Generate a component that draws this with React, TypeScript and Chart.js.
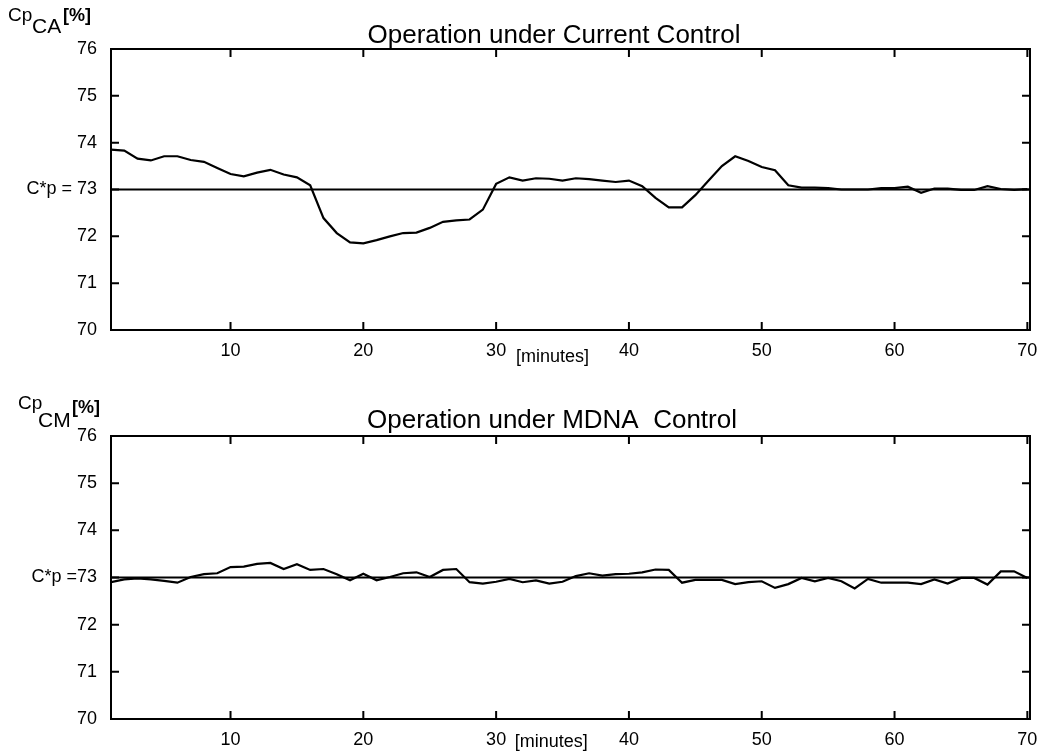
import React, { useEffect, useRef } from "react";
import { Chart, registerables } from "chart.js";

Chart.register(...registerables);

// ---------- data ----------
const MINUTES = [
  1, 2, 3, 4, 5, 6, 7, 8, 9, 10, 11, 12, 13, 14, 15, 16, 17, 18, 19, 20,
  21, 22, 23, 24, 25, 26, 27, 28, 29, 30, 31, 32, 33, 34, 35, 36, 37, 38, 39, 40,
  41, 42, 43, 44, 45, 46, 47, 48, 49, 50, 51, 52, 53, 54, 55, 56, 57, 58, 59, 60,
  61, 62, 63, 64, 65, 66, 67, 68, 69, 70,
];

// Cp_CA [%] – operation under current control
const CP_CA = [
  73.85, 73.83, 73.66, 73.62, 73.71, 73.71, 73.63, 73.59, 73.46, 73.33,
  73.28, 73.36, 73.42, 73.32, 73.26, 73.09, 72.39, 72.07, 71.87, 71.85,
  71.92, 72.0, 72.07, 72.08, 72.18, 72.31, 72.34, 72.36, 72.57, 73.12,
  73.26, 73.19, 73.24, 73.23, 73.19, 73.24, 73.22, 73.19, 73.16, 73.19,
  73.07, 72.82, 72.62, 72.62, 72.88, 73.19, 73.5, 73.71, 73.61, 73.48,
  73.41, 73.09, 73.04, 73.04, 73.03, 73.0, 73.0, 73.0, 73.03, 73.03,
  73.06, 72.93, 73.02, 73.02, 72.99, 72.99, 73.07, 73.01, 72.99, 73.01,
];

// Cp_CM [%] – operation under MDNA control
const CP_CM = [
  72.9, 72.96, 72.98, 72.96, 72.93, 72.89, 73.01, 73.07, 73.09, 73.22,
  73.23, 73.29, 73.31, 73.18, 73.28, 73.16, 73.18, 73.07, 72.94, 73.08,
  72.94, 73.01, 73.09, 73.11, 73.01, 73.16, 73.18, 72.9, 72.87, 72.91,
  72.97, 72.9, 72.94, 72.87, 72.91, 73.03, 73.09, 73.04, 73.07, 73.08,
  73.11, 73.17, 73.16, 72.89, 72.95, 72.95, 72.95, 72.86, 72.9, 72.92,
  72.78, 72.86, 72.99, 72.92, 72.99, 72.92, 72.77, 72.97, 72.89, 72.89,
  72.89, 72.86, 72.96, 72.87, 72.99, 72.99, 72.85, 73.13, 73.13, 72.99,
];

const SETPOINT = 73;
const X_TICKS = [10, 20, 30, 40, 50, 60, 70];
const Y_TICKS = [70, 71, 72, 73, 74, 75, 76];
const X_MIN = 1;
const X_MAX = 70.2;
const Y_MIN = 70;
const Y_MAX = 76;

// ---------- layout ----------
const FONT = "'Liberation Sans', Arial, Helvetica, sans-serif";
const W = 1041;
const AREA_LEFT = 111;
const AREA_RIGHT = 1030;

type Panel = {
  title: string;
  values: number[];
  setLabel: string;
  sub: string;
  top: number;
  height: number;
  areaTop: number;
  areaBottom: number;
  titleX: number;
  titleBaseline: number;
  cp: [number, number, number];
  subPos: [number, number, number];
  pct: [number, number];
  minutesAt: number;
  minutesBaseline: number;
};

const PANELS: Panel[] = [
  {
    title: "Operation under Current Control",
    values: CP_CA,
    setLabel: "C*p = 73",
    sub: "CA",
    top: 0,
    height: 390,
    areaTop: 49,
    areaBottom: 330,
    titleX: 554,
    titleBaseline: 43,
    cp: [8, 21, 19],
    subPos: [32, 33, 21],
    pct: [63, 21],
    minutesAt: 31.5,
    minutesBaseline: 362,
  },
  {
    title: "Operation under MDNA  Control",
    values: CP_CM,
    setLabel: "C*p =73",
    sub: "CM",
    top: 390,
    height: 361,
    areaTop: 46,
    areaBottom: 329,
    titleX: 552,
    titleBaseline: 38,
    cp: [18, 19, 19],
    subPos: [38, 37, 21],
    pct: [72, 23],
    minutesAt: 31.4,
    minutesBaseline: 357,
  },
];

function makeDecor(p: Panel) {
  return {
    id: "panelDecor",
    afterDraw(chart: any) {
      const ctx = chart.ctx as CanvasRenderingContext2D;
      const { left, right, top, bottom } = chart.chartArea;
      const xs = chart.scales.x;
      const ys = chart.scales.y;
      ctx.save();
      ctx.strokeStyle = "#000";
      ctx.lineWidth = 2;
      ctx.strokeRect(left, top, right - left, bottom - top);
      const tl = 8;
      ctx.beginPath();
      X_TICKS.forEach((v) => {
        if (v >= X_MAX || v <= X_MIN) return;
        const x = xs.getPixelForValue(v);
        ctx.moveTo(x, bottom);
        ctx.lineTo(x, bottom - tl);
        ctx.moveTo(x, top);
        ctx.lineTo(x, top + tl);
      });
      Y_TICKS.forEach((v) => {
        if (v <= Y_MIN || v >= Y_MAX) return;
        const y = ys.getPixelForValue(v);
        ctx.moveTo(left, y);
        ctx.lineTo(left + tl, y);
        ctx.moveTo(right, y);
        ctx.lineTo(right - tl, y);
      });
      ctx.stroke();

      ctx.fillStyle = "#000";
      ctx.textBaseline = "alphabetic";
      // title
      ctx.textAlign = "center";
      ctx.font = `26px ${FONT}`;
      ctx.fillText(p.title, p.titleX, p.titleBaseline);
      // y axis label Cp_XX[%]
      ctx.textAlign = "left";
      ctx.font = `${p.cp[2]}px ${FONT}`;
      ctx.fillText("Cp", p.cp[0], p.cp[1]);
      ctx.font = `${p.subPos[2]}px ${FONT}`;
      ctx.fillText(p.sub, p.subPos[0], p.subPos[1]);
      ctx.font = `bold 18px ${FONT}`;
      ctx.fillText("[%]", p.pct[0], p.pct[1]);
      // [minutes]
      ctx.font = `18px ${FONT}`;
      ctx.fillText("[minutes]", xs.getPixelForValue(p.minutesAt), p.minutesBaseline);
      ctx.restore();
    },
  };
}

function PanelChart({ p }: { p: Panel }) {
  const ref = useRef<HTMLCanvasElement>(null);
  useEffect(() => {
    if (!ref.current) return;
    const chart = new Chart(ref.current, {
      type: "line",
      data: {
        datasets: [
          {
            data: [
              { x: X_MIN, y: SETPOINT },
              { x: X_MAX, y: SETPOINT },
            ],
            borderColor: "#000",
            borderWidth: 2,
            pointRadius: 0,
            fill: false,
          },
          {
            data: MINUTES.map((m, i) => ({ x: m, y: p.values[i] })),
            borderColor: "#000",
            borderWidth: 2.2,
            pointRadius: 0,
            tension: 0,
            fill: false,
          },
        ],
      },
      options: {
        responsive: false,
        animation: false,
        layout: { padding: { top: p.areaTop, right: W - AREA_RIGHT, left: 0, bottom: 0 } },
        plugins: {
          legend: { display: false },
          tooltip: { enabled: false },
          title: { display: false },
        },
        scales: {
          x: {
            type: "linear",
            min: X_MIN,
            max: X_MAX,
            grid: { display: false, drawTicks: false },
            border: { display: false },
            afterBuildTicks: (s: any) => {
              s.ticks = X_TICKS.map((v) => ({ value: v }));
            },
            afterFit: (s: any) => {
              s.height = p.height - p.areaBottom;
              s.paddingLeft = 0;
              s.paddingRight = 0;
            },
            ticks: {
              color: "#000",
              font: { family: FONT, size: 18 },
              padding: 10,
              maxRotation: 0,
              autoSkip: false,
              callback: (v: any) => String(v),
            },
          },
          y: {
            min: Y_MIN,
            max: Y_MAX,
            grid: { display: false, drawTicks: false },
            border: { display: false },
            afterBuildTicks: (s: any) => {
              s.ticks = Y_TICKS.map((v) => ({ value: v }));
            },
            afterFit: (s: any) => {
              s.width = AREA_LEFT;
              s.paddingTop = 0;
              s.paddingBottom = 0;
            },
            ticks: {
              color: "#000",
              font: { family: FONT, size: 18 },
              padding: 14,
              autoSkip: false,
              callback: (v: any) => (v === SETPOINT ? p.setLabel : String(v)),
            },
          },
        },
      },
      plugins: [makeDecor(p)],
    } as any);
    return () => chart.destroy();
  }, [p]);
  return (
    <div style={{ position: "absolute", left: 0, top: p.top, width: W, height: p.height }}>
      <canvas ref={ref} width={W} height={p.height} style={{ display: "block" }} />
    </div>
  );
}

export default function App() {
  return (
    <div style={{ position: "absolute", left: 0, top: 0, width: W, height: 751, background: "#fff" }}>
      {PANELS.map((p, i) => (
        <PanelChart key={i} p={p} />
      ))}
    </div>
  );
}
